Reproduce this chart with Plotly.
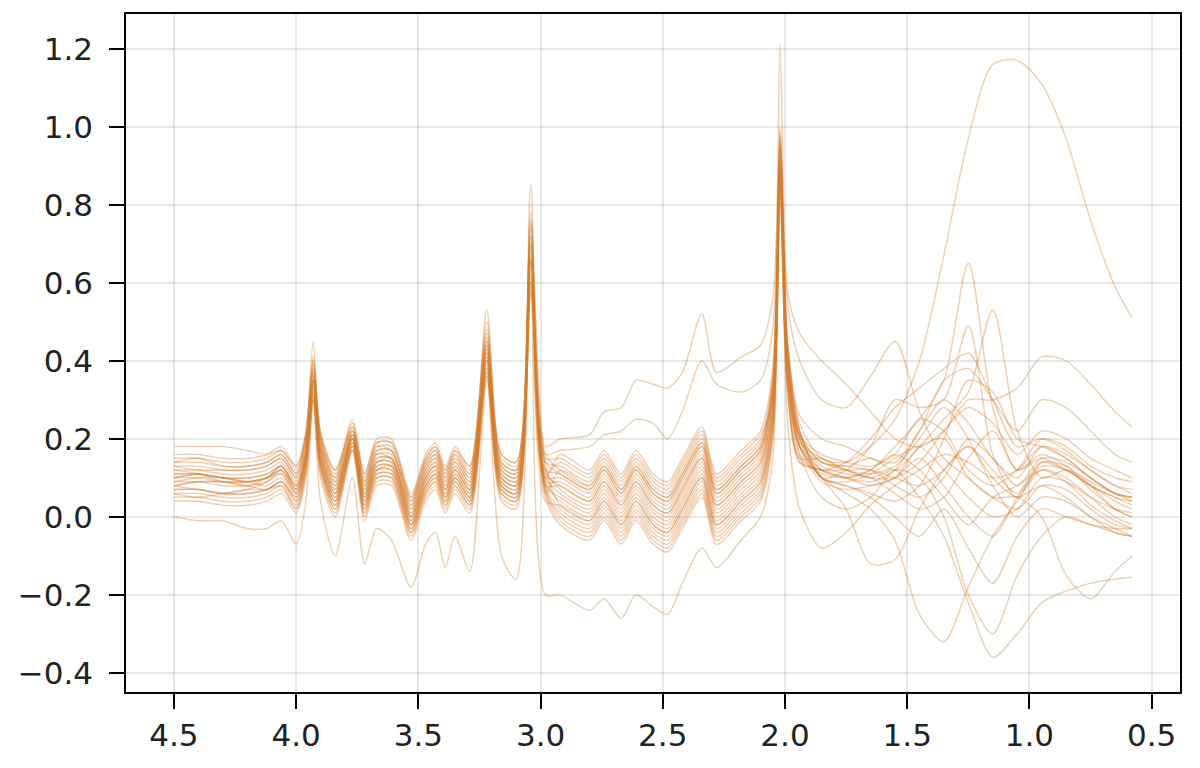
import plotly.graph_objects as go

# chemical shift grid (ppm)
ppm = [4.50, 4.40, 4.30, 4.20, 4.12, 4.06, 4.00, 3.96, 3.93, 3.90, 3.84,
       3.77, 3.72, 3.67, 3.61, 3.53, 3.47, 3.43, 3.39, 3.35, 3.29, 3.22, 3.16, 3.10, 3.04, 2.98,
       2.92, 2.80, 2.74, 2.67, 2.61, 2.54, 2.48, 2.42, 2.34, 2.28, 2.18, 2.10, 2.05, 2.02, 1.99, 1.94,
       1.85, 1.75, 1.65, 1.55, 1.45, 1.35, 1.25, 1.15, 1.05, 0.95, 0.85, 0.75, 0.65, 0.58]

spectrum_01 = [0.18, 0.18, 0.18, 0.17, 0.16, 0.17, 0.13, 0.21, 0.40, 0.21, 0.12,
               0.24, 0.11, 0.19, 0.19, 0.05, 0.15, 0.18, 0.12, 0.17, 0.13, 0.50, 0.16, 0.14, 0.72, 0.18,
               0.20, 0.21, 0.27, 0.28, 0.35, 0.34, 0.33, 0.37, 0.52, 0.37, 0.41, 0.44, 0.56, 0.98, 0.58, 0.47,
               0.40, 0.34, 0.27, 0.20, 0.18, 0.22, 0.30, 0.30, 0.33, 0.41, 0.40, 0.34, 0.27, 0.23]
spectrum_02 = [0.00, -0.01, -0.01, -0.03, -0.03, -0.01, -0.07, 0.04, 0.30, 0.04, -0.10,
               0.10, -0.12, -0.03, -0.06, -0.18, -0.07, -0.04, -0.13, -0.05, -0.14, 0.35, -0.10, -0.16, 0.60, -0.20,
               -0.20, -0.24, -0.21, -0.26, -0.20, -0.23, -0.25, -0.17, -0.08, -0.13, -0.06, 0.00, 0.15, 0.85, 0.35, 0.15,
               0.15, 0.12, 0.10, 0.12, 0.05, -0.05, -0.22, -0.36, -0.30, -0.22, -0.19, -0.17, -0.16, -0.155]
spectrum_03 = [0.14, 0.15, 0.13, 0.13, 0.14, 0.16, 0.11, 0.21, 0.45, 0.20, 0.10,
               0.25, 0.09, 0.18, 0.17, 0.04, 0.14, 0.17, 0.11, 0.16, 0.11, 0.53, 0.14, 0.12, 0.85, 0.16,
               0.17, 0.18, 0.21, 0.22, 0.25, 0.24, 0.20, 0.27, 0.40, 0.34, 0.32, 0.35, 0.48, 1.21, 0.55, 0.40,
               0.30, 0.28, 0.36, 0.45, 0.27, 0.15, 0.10, 0.05, 0.02, 0.08, 0.07, 0.02, -0.02, -0.03]
spectrum_04 = [0.13, 0.12, 0.12, 0.12, 0.13, 0.15, 0.10, 0.19, 0.38, 0.19, 0.09,
               0.22, 0.08, 0.17, 0.17, 0.03, 0.13, 0.16, 0.10, 0.15, 0.10, 0.45, 0.13, 0.11, 0.75, 0.14,
               0.13, 0.09, 0.14, 0.08, 0.14, 0.08, 0.06, 0.12, 0.20, 0.08, 0.14, 0.19, 0.35, 1.00, 0.45, 0.24,
               0.15, 0.14, 0.18, 0.25, 0.40, 0.67, 0.97, 1.16, 1.17, 1.11, 0.97, 0.76, 0.59, 0.51]
spectrum_05 = [0.12, 0.11, 0.09, 0.08, 0.10, 0.13, 0.08, 0.17, 0.36, 0.18, 0.08,
               0.21, 0.07, 0.16, 0.15, 0.02, 0.12, 0.15, 0.09, 0.14, 0.09, 0.44, 0.12, 0.10, 0.70, 0.12,
               0.11, 0.07, 0.12, 0.06, 0.12, 0.06, 0.04, 0.10, 0.18, 0.06, 0.12, 0.17, 0.33, 0.95, 0.43, 0.20,
               0.12, 0.10, 0.12, 0.18, 0.25, 0.35, 0.65, 0.28, 0.12, 0.15, 0.12, 0.08, 0.05, 0.03]
spectrum_06 = [0.11, 0.11, 0.10, 0.10, 0.11, 0.13, 0.08, 0.17, 0.35, 0.17, 0.07,
               0.20, 0.06, 0.15, 0.15, 0.01, 0.11, 0.14, 0.08, 0.13, 0.08, 0.42, 0.11, 0.09, 0.68, 0.11,
               0.08, 0.04, 0.09, 0.03, 0.09, 0.03, 0.01, 0.07, 0.15, 0.03, 0.09, 0.14, 0.30, 0.92, 0.42, 0.21,
               0.14, 0.13, 0.15, 0.12, 0.18, 0.25, 0.32, 0.53, 0.22, 0.10, 0.12, 0.09, 0.06, 0.05]
spectrum_07 = [0.10, 0.10, 0.09, 0.09, 0.10, 0.12, 0.07, 0.16, 0.34, 0.16, 0.06,
               0.20, 0.05, 0.14, 0.14, 0.00, 0.10, 0.13, 0.07, 0.12, 0.07, 0.40, 0.10, 0.08, 0.65, 0.10,
               0.06, 0.02, 0.07, 0.01, 0.07, 0.01, -0.01, 0.05, 0.13, 0.01, 0.07, 0.12, 0.28, 0.90, 0.40, 0.20,
               0.10, 0.12, 0.18, 0.30, 0.28, 0.30, 0.49, 0.16, 0.05, 0.14, 0.13, 0.08, 0.02, 0.00]
spectrum_08 = [0.09, 0.09, 0.08, 0.08, 0.09, 0.11, 0.06, 0.15, 0.33, 0.15, 0.05,
               0.19, 0.04, 0.13, 0.13, -0.01, 0.09, 0.12, 0.06, 0.11, 0.06, 0.40, 0.09, 0.07, 0.63, 0.09,
               0.04, 0.00, 0.05, -0.01, 0.05, -0.01, -0.03, 0.03, 0.11, -0.01, 0.05, 0.10, 0.26, 0.88, 0.38, 0.18,
               0.10, 0.06, 0.02, -0.06, -0.25, -0.32, -0.18, -0.05, 0.04, 0.12, 0.10, 0.05, 0.00, -0.02]
spectrum_09 = [0.08, 0.09, 0.09, 0.09, 0.10, 0.11, 0.06, 0.15, 0.32, 0.14, 0.04,
               0.18, 0.03, 0.12, 0.12, -0.02, 0.08, 0.11, 0.05, 0.10, 0.05, 0.38, 0.08, 0.06, 0.60, 0.08,
               0.02, -0.02, 0.03, -0.03, 0.03, -0.03, -0.05, 0.01, 0.09, -0.03, 0.03, 0.08, 0.24, 0.86, 0.36, 0.16,
               0.05, 0.02, 0.05, 0.12, 0.10, 0.00, -0.20, -0.30, -0.15, -0.05, 0.00, -0.02, -0.04, -0.05]
spectrum_10 = [0.07, 0.07, 0.06, 0.06, 0.07, 0.09, 0.04, 0.13, 0.31, 0.13, 0.03,
               0.18, 0.02, 0.11, 0.11, -0.03, 0.07, 0.10, 0.04, 0.09, 0.04, 0.37, 0.07, 0.05, 0.58, 0.07,
               0.00, -0.04, 0.01, -0.05, 0.01, -0.05, -0.07, -0.01, 0.07, -0.05, 0.01, 0.06, 0.22, 0.84, 0.34, 0.14,
               0.12, 0.10, 0.08, 0.10, 0.18, 0.20, 0.10, 0.05, 0.05, 0.00, -0.15, -0.21, -0.14, -0.10]
spectrum_11 = [0.06, 0.06, 0.05, 0.05, 0.06, 0.08, 0.03, 0.13, 0.33, 0.13, 0.02,
               0.19, 0.01, 0.10, 0.10, -0.04, 0.06, 0.09, 0.03, 0.08, 0.03, 0.38, 0.06, 0.04, 0.62, 0.06,
               0.12, 0.08, 0.13, 0.07, 0.13, 0.07, 0.05, 0.11, 0.19, 0.07, 0.13, 0.18, 0.34, 0.90, 0.42, 0.22,
               0.10, 0.08, 0.05, 0.00, -0.05, 0.02, -0.08, -0.17, -0.05, 0.02, 0.00, -0.02, -0.03, -0.03]
spectrum_12 = [0.15, 0.15, 0.14, 0.14, 0.15, 0.17, 0.12, 0.21, 0.40, 0.21, 0.11,
               0.23, 0.10, 0.19, 0.19, 0.05, 0.15, 0.18, 0.12, 0.17, 0.12, 0.47, 0.15, 0.13, 0.78, 0.15,
               0.15, 0.11, 0.16, 0.10, 0.16, 0.10, 0.08, 0.14, 0.22, 0.10, 0.16, 0.21, 0.30, 0.97, 0.25, 0.02,
               -0.08, -0.04, 0.03, 0.08, 0.12, 0.16, 0.14, 0.10, 0.12, 0.18, 0.15, 0.10, 0.06, 0.05]
spectrum_13 = [0.10, 0.11, 0.10, 0.09, 0.10, 0.13, 0.07, 0.16, 0.37, 0.16, 0.06,
               0.21, 0.05, 0.14, 0.14, 0.00, 0.10, 0.13, 0.07, 0.12, 0.07, 0.43, 0.10, 0.08, 0.66, 0.10,
               0.10, 0.06, 0.11, 0.05, 0.11, 0.05, 0.03, 0.09, 0.17, 0.05, 0.11, 0.16, 0.32, 0.93, 0.40, 0.18,
               0.10, 0.02, -0.12, -0.11, 0.02, 0.12, 0.18, 0.10, 0.05, 0.08, 0.05, 0.00, -0.04, -0.05]
spectrum_14 = [0.08, 0.07, 0.06, 0.07, 0.09, 0.12, 0.06, 0.15, 0.35, 0.14, 0.04,
               0.19, 0.03, 0.12, 0.13, -0.02, 0.08, 0.11, 0.05, 0.10, 0.05, 0.41, 0.08, 0.06, 0.64, 0.08,
               0.05, 0.01, 0.06, 0.00, 0.06, 0.00, -0.02, 0.04, 0.12, 0.00, 0.06, 0.11, 0.27, 0.89, 0.39, 0.19,
               0.15, 0.12, 0.10, 0.10, 0.14, 0.22, 0.28, 0.24, 0.16, 0.22, 0.20, 0.15, 0.12, 0.10]
spectrum_15 = [0.13, 0.13, 0.12, 0.12, 0.13, 0.15, 0.10, 0.19, 0.36, 0.19, 0.09,
               0.22, 0.08, 0.17, 0.17, 0.03, 0.13, 0.16, 0.10, 0.15, 0.10, 0.44, 0.13, 0.11, 0.70, 0.13,
               0.03, -0.01, 0.04, -0.02, 0.04, -0.02, -0.04, 0.02, 0.10, -0.02, 0.04, 0.09, 0.26, 0.91, 0.38, 0.18,
               0.12, 0.10, 0.09, 0.12, 0.22, 0.30, 0.24, 0.15, 0.10, 0.18, 0.16, 0.12, 0.08, 0.07]
spectrum_16 = [0.05, 0.05, 0.04, 0.04, 0.05, 0.07, 0.02, 0.11, 0.30, 0.11, 0.01,
               0.17, 0.00, 0.09, 0.09, -0.05, 0.05, 0.08, 0.02, 0.07, 0.02, 0.36, 0.05, 0.03, 0.57, 0.05,
               -0.02, -0.06, -0.01, -0.07, -0.01, -0.07, -0.09, -0.03, 0.05, -0.07, -0.01, 0.04, 0.20, 0.82, 0.32, 0.14,
               0.12, 0.12, 0.12, 0.08, 0.05, 0.10, 0.20, 0.15, 0.08, 0.15, 0.14, 0.10, 0.06, 0.05]
spectrum_17 = [0.11, 0.11, 0.10, 0.10, 0.11, 0.13, 0.08, 0.17, 0.38, 0.17, 0.07,
               0.21, 0.06, 0.15, 0.15, 0.01, 0.11, 0.14, 0.08, 0.13, 0.08, 0.45, 0.11, 0.09, 0.72, 0.11,
               0.14, 0.10, 0.15, 0.09, 0.15, 0.09, 0.07, 0.13, 0.21, 0.09, 0.15, 0.20, 0.36, 0.96, 0.44, 0.22,
               0.10, 0.09, 0.11, 0.15, 0.18, 0.12, 0.05, 0.00, 0.02, 0.10, 0.09, 0.05, 0.02, 0.01]
spectrum_18 = [0.09, 0.10, 0.10, 0.09, 0.08, 0.10, 0.05, 0.15, 0.34, 0.15, 0.05,
               0.20, 0.04, 0.13, 0.13, -0.01, 0.09, 0.12, 0.06, 0.11, 0.06, 0.41, 0.09, 0.07, 0.66, 0.09,
               0.09, 0.05, 0.10, 0.04, 0.10, 0.04, 0.02, 0.08, 0.16, 0.04, 0.10, 0.15, 0.31, 0.90, 0.41, 0.20,
               0.13, 0.11, 0.10, 0.06, 0.02, 0.05, 0.15, 0.22, 0.12, 0.16, 0.13, 0.07, 0.02, 0.00]
spectrum_19 = [0.12, 0.12, 0.11, 0.11, 0.12, 0.14, 0.09, 0.18, 0.37, 0.18, 0.08,
               0.20, 0.07, 0.16, 0.16, 0.02, 0.12, 0.15, 0.09, 0.14, 0.09, 0.43, 0.12, 0.10, 0.69, 0.12,
               0.07, 0.03, 0.08, 0.02, 0.08, 0.02, 0.00, 0.06, 0.14, 0.02, 0.08, 0.13, 0.29, 0.93, 0.44, 0.26,
               0.20, 0.18, 0.15, 0.14, 0.22, 0.35, 0.38, 0.30, 0.22, 0.30, 0.28, 0.22, 0.16, 0.14]
spectrum_20 = [0.07, 0.07, 0.06, 0.06, 0.07, 0.09, 0.04, 0.13, 0.32, 0.13, 0.03,
               0.18, 0.02, 0.11, 0.11, -0.03, 0.07, 0.10, 0.04, 0.09, 0.04, 0.39, 0.07, 0.05, 0.61, 0.07,
               0.01, -0.03, 0.02, -0.04, 0.02, -0.04, -0.06, 0.00, 0.08, -0.04, 0.02, 0.07, 0.23, 0.87, 0.35, 0.16,
               0.11, 0.10, 0.12, 0.16, 0.12, 0.05, -0.02, 0.05, 0.08, 0.12, 0.09, 0.03, -0.01, -0.03]
spectrum_21 = [0.14, 0.14, 0.13, 0.13, 0.14, 0.16, 0.11, 0.20, 0.39, 0.20, 0.10,
               0.22, 0.09, 0.18, 0.18, 0.04, 0.14, 0.17, 0.11, 0.16, 0.11, 0.46, 0.14, 0.12, 0.74, 0.14,
               0.11, 0.07, 0.12, 0.06, 0.12, 0.06, 0.04, 0.10, 0.18, 0.06, 0.12, 0.17, 0.33, 0.94, 0.42, 0.21,
               0.14, 0.13, 0.12, 0.10, 0.08, 0.12, 0.18, 0.12, 0.06, 0.13, 0.12, 0.08, 0.05, 0.04]
spectrum_22 = [0.06, 0.05, 0.06, 0.07, 0.07, 0.08, 0.02, 0.12, 0.31, 0.12, 0.02,
               0.17, 0.01, 0.10, 0.10, -0.04, 0.06, 0.09, 0.03, 0.08, 0.03, 0.37, 0.06, 0.04, 0.59, 0.06,
               -0.01, -0.05, 0.00, -0.06, 0.00, -0.06, -0.08, -0.02, 0.06, -0.06, 0.00, 0.05, 0.21, 0.85, 0.33, 0.15,
               0.12, 0.14, 0.20, 0.28, 0.33, 0.38, 0.42, 0.30, 0.18, 0.20, 0.17, 0.12, 0.08, 0.06]
spectrum_23 = [0.10, 0.11, 0.10, 0.09, 0.10, 0.12, 0.07, 0.16, 0.35, 0.16, 0.06,
               0.21, 0.05, 0.14, 0.15, 0.00, 0.10, 0.13, 0.07, 0.12, 0.07, 0.42, 0.10, 0.08, 0.67, 0.10,
               0.16, 0.12, 0.17, 0.11, 0.17, 0.11, 0.09, 0.15, 0.23, 0.11, 0.17, 0.22, 0.38, 0.99, 0.45, 0.22,
               0.10, 0.08, 0.06, 0.04, 0.08, 0.20, 0.35, 0.32, 0.20, 0.18, 0.15, 0.10, 0.06, 0.04]
spectrum_24 = [0.04, 0.04, 0.03, 0.03, 0.04, 0.06, 0.01, 0.10, 0.30, 0.10, 0.00,
               0.17, -0.01, 0.08, 0.08, -0.06, 0.04, 0.07, 0.01, 0.06, 0.01, 0.36, 0.04, 0.02, 0.58, 0.04,
               0.03, -0.01, 0.04, -0.02, 0.04, -0.02, -0.04, 0.02, 0.10, -0.02, 0.04, 0.09, 0.25, 0.83, 0.36, 0.18,
               0.14, 0.12, 0.11, 0.13, 0.20, 0.28, 0.20, 0.08, 0.00, 0.05, 0.04, 0.00, -0.03, -0.05]
spectrum_25 = [0.16, 0.16, 0.15, 0.15, 0.16, 0.18, 0.13, 0.22, 0.41, 0.22, 0.12,
               0.23, 0.11, 0.20, 0.20, 0.06, 0.16, 0.19, 0.13, 0.18, 0.13, 0.48, 0.16, 0.14, 0.76, 0.16,
               0.12, 0.08, 0.13, 0.07, 0.13, 0.07, 0.05, 0.11, 0.19, 0.07, 0.13, 0.18, 0.34, 0.95, 0.40, 0.18,
               0.09, 0.07, 0.08, 0.10, 0.15, 0.08, 0.00, -0.05, 0.05, 0.14, 0.12, 0.08, 0.04, 0.02]
spectrum_26 = [0.08, 0.09, 0.09, 0.08, 0.07, 0.09, 0.05, 0.14, 0.35, 0.14, 0.04,
               0.20, 0.03, 0.12, 0.12, -0.02, 0.08, 0.11, 0.05, 0.10, 0.05, 0.40, 0.08, 0.06, 0.66, 0.08,
               0.08, 0.04, 0.09, 0.03, 0.09, 0.03, 0.01, 0.07, 0.15, 0.03, 0.09, 0.14, 0.30, 0.91, 0.41, 0.21,
               0.16, 0.14, 0.13, 0.16, 0.25, 0.22, 0.12, 0.08, 0.12, 0.20, 0.18, 0.13, 0.10, 0.09]

spectra = [spectrum_01, spectrum_02, spectrum_03, spectrum_04, spectrum_05, spectrum_06,
           spectrum_07, spectrum_08, spectrum_09, spectrum_10, spectrum_11, spectrum_12,
           spectrum_13, spectrum_14, spectrum_15, spectrum_16, spectrum_17, spectrum_18,
           spectrum_19, spectrum_20, spectrum_21, spectrum_22, spectrum_23, spectrum_24,
           spectrum_25, spectrum_26]

x_ticks = [4.5, 4.0, 3.5, 3.0, 2.5, 2.0, 1.5, 1.0, 0.5]
y_ticks = [-0.4, -0.2, 0.0, 0.2, 0.4, 0.6, 0.8, 1.0, 1.2]

for i, s in enumerate(spectra):
    assert len(s) == len(ppm), (i + 1, len(s), len(ppm))

LINE = "rgba(214,126,46,0.36)"

fig = go.Figure()
for s in spectra:
    fig.add_trace(go.Scatter(x=ppm, y=s, mode="lines",
                             line=dict(color=LINE, width=1.5, shape="spline", smoothing=0.8),
                             hoverinfo="skip", showlegend=False))

axis_common = dict(
    showline=True, linecolor="black", linewidth=1.6, mirror=True,
    ticks="outside", ticklen=15, tickwidth=1.6, tickcolor="black",
    showgrid=True, gridcolor="rgba(0,0,0,0.09)", gridwidth=1.5,
    zeroline=False, tickfont=dict(family="DejaVu Sans", size=31, color="#222222"),
    tickformat=".1f",
)

fig.update_layout(
    width=1200, height=768,
    paper_bgcolor="white", plot_bgcolor="white",
    margin=dict(l=118, r=28, t=4, b=84),
    showlegend=False,
    xaxis=dict(range=[4.696, 0.384], tickvals=x_ticks, **axis_common),
    yaxis=dict(range=[-0.449, 1.289], tickvals=y_ticks, ticklabelstandoff=10, **axis_common),
)

fig.write_html("out.html")
